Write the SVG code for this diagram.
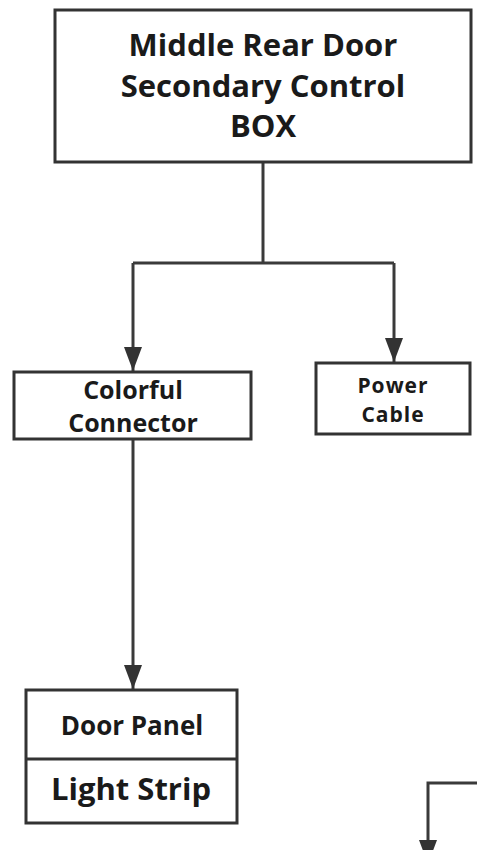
<svg xmlns="http://www.w3.org/2000/svg" width="477" height="850" viewBox="0 0 477 850">
<style>
.box{fill:#fff;stroke:#333;stroke-width:3}
.ln{fill:none;stroke:#3a3a3a;stroke-width:3}
text{font-family:"Open Sans","Noto Sans","DejaVu Sans",sans-serif;font-weight:bold;fill:#1a1a1a;text-anchor:middle}
</style>
<defs>
<marker id="arr" viewBox="0 0 10 10" refX="10" refY="5" markerWidth="24" markerHeight="18" markerUnits="userSpaceOnUse" orient="auto" preserveAspectRatio="none">
<path d="M0,0 L10,5 L0,10 z" fill="#333"/>
</marker>
</defs>
<rect width="477" height="850" fill="#fff"/>
<g id="connectors">
<path class="ln" d="M263,163 V263"/>
<path class="ln" d="M133,263 H394"/>
<path class="ln" d="M133,263 V371" marker-end="url(#arr)"/>
<path class="ln" d="M394,263 V362" marker-end="url(#arr)"/>
<path class="ln" d="M133,439 V689" marker-end="url(#arr)"/>
<path class="ln" d="M477,783 H428 V864" marker-end="url(#arr)"/>
</g>
<g id="control-box">
<rect class="box" x="55" y="10" width="416" height="152"/>
<text x="263" y="56" font-size="31">Middle Rear Door</text>
<text x="263" y="97" font-size="31">Secondary Control</text>
<text x="263" y="137" font-size="31">BOX</text>
</g>
<g id="colorful-connector">
<rect class="box" x="14" y="372" width="237" height="67"/>
<text x="133" y="399" font-size="25">Colorful</text>
<text x="133" y="432" font-size="25">Connector</text>
</g>
<g id="power-cable">
<rect class="box" x="316" y="363" width="154" height="71"/>
<text x="393" y="393" font-size="21" letter-spacing="1">Power</text>
<text x="393" y="422" font-size="21" letter-spacing="1">Cable</text>
</g>
<g id="door-panel">
<rect class="box" x="26" y="690" width="211" height="133"/>
<path class="box" d="M26,759 H237"/>
<text x="132" y="735" font-size="26">Door Panel</text>
<text x="131" y="800" font-size="31">Light Strip</text>
</g>
</svg>
